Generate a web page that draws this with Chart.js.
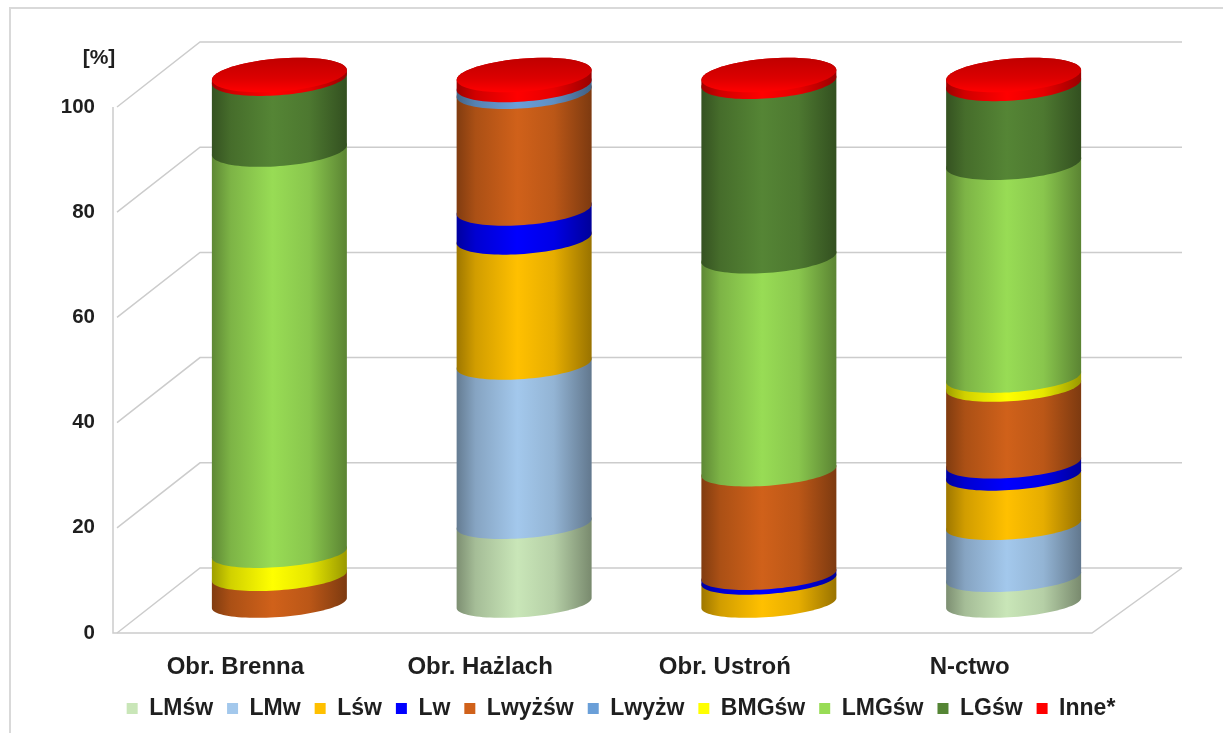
<!DOCTYPE html>
<html>
<head>
<meta charset="utf-8">
<script src="https://cdn.jsdelivr.net/npm/chart.js@4"></script>
<style>
html, body { margin: 0; padding: 0; background: #fff; }
canvas { position: absolute; left: 0; top: 0; filter: blur(0.6px); }
</style>
</head>
<body>
<canvas id="wykres" width="1223" height="736"></canvas>
<script>
const kategorie = ["Obr. Brenna", "Obr. Hażlach", "Obr. Ustroń", "N-ctwo"];
const etykietyOsi = [0, 20, 40, 60, 80, 100];

const lmsw   = [0, 15.0, 0, 4.9];
const lmw    = [0, 30.3, 0, 9.9];
const lsw    = [0, 23.8, 4.4, 9.4];
const lw     = [0, 5.5, 0.9, 2.3];
const lwyzsw = [5.1, 22.2, 19.7, 14.6];
const lwyzw  = [0, 1.3, 0, 0];
const bmgsw  = [4.4, 0, 0, 1.7];
const lmgsw  = [76.3, 0, 40.5, 40.5];
const lgsw   = [13.5, 0, 33.2, 15.0];
const inne   = [0.7, 1.9, 1.3, 1.7];

const serie = [
    ["LMśw", lmsw, "#c9e6b8"],
    ["LMw", lmw, "#a3c8ec"],
    ["Lśw", lsw, "#ffc000"],
    ["Lw", lw, "#0000ff"],
    ["Lwyżśw", lwyzsw, "#d0611a"],
    ["Lwyżw", lwyzw, "#6a9fd8"],
    ["BMGśw", bmgsw, "#ffff00"],
    ["LMGśw", lmgsw, "#98dc55"],
    ["LGśw", lgsw, "#558535"],
    ["Inne*", inne, "#ff0000"]
];

const czcionka = "'Liberation Sans', Arial, sans-serif";
const kolorTekstu = "#1f1f1f";
const kolorSiatki = "#cccccc";

// przesuniecie tylnej sciany i srodka walca wzgledem przedniej plaszczyzny
const glebX = 87, glebY = 65;
const walecX = 44, walecY = 30, promien = 67.5;

function przyciemnij(hex, f) {
    const n = parseInt(hex.slice(1), 16);
    const r = Math.round((n >> 16) * f);
    const g = Math.round(((n >> 8) & 255) * f);
    const b = Math.round((n & 255) * f);
    return `rgb(${r},${g},${b})`;
}

// y srodka elipsy dla piksela y na osi, u gory walec lekko sie rozjezdza
function srodekY(y, area) {
    const u = (area.bottom - y) / (area.bottom - area.top);
    return y - walecY - 2 * u;
}

function elipsa(ctx, cx, y, od, doK, area) {
    const u = (area.bottom - y) / (area.bottom - area.top);
    const cy = srodekY(y, area);
    const k = 5;
    const h = 14 + 2.5 * u;
    const kroki = 48;
    for (let i = 0; i <= kroki; i++) {
        const t = od + (doK - od) * i / kroki;
        ctx.lineTo(cx + promien * Math.cos(t), cy - k * Math.cos(t) + h * Math.sin(t));
    }
}

const walce = {
    id: "walce",
    afterLayout(chart) {
        // legenda wysrodkowana na calym obrazku, nie na obszarze wykresu
        chart.legend.left += 75;
        chart.legend.right += 75;
    },
    beforeDatasetsDraw(chart) {
        const ctx = chart.ctx;
        const area = chart.chartArea;
        const skala = chart.scales.y;

        // sciany i siatka
        ctx.save();
        ctx.strokeStyle = kolorSiatki;
        ctx.lineWidth = 1.5;
        etykietyOsi.forEach(w => {
            const y = skala.getPixelForValue(w);
            ctx.beginPath();
            ctx.moveTo(area.left + 4, y);
            ctx.lineTo(area.left + glebX, y - glebY);
            ctx.lineTo(area.right + 90, y - glebY);
            ctx.stroke();
        });
        ctx.beginPath();
        ctx.moveTo(area.left, area.top);
        ctx.lineTo(area.left, area.bottom);
        ctx.lineTo(area.right, area.bottom);
        ctx.lineTo(area.right + 90, area.bottom - glebY);
        ctx.stroke();

        ctx.fillStyle = kolorTekstu;
        ctx.font = "bold 21px " + czcionka;
        ctx.textAlign = "center";
        ctx.textBaseline = "middle";
        ctx.fillText("[%]", 99, 58);

        // walce, od dolu do gory
        kategorie.forEach((nazwa, j) => {
            let cx = 0, gora = 0;
            chart.data.datasets.forEach((ds, i) => {
                const bar = chart.getDatasetMeta(i).data[j];
                if (!ds.data[j]) return;
                cx = bar.x + walecX;
                gora = bar.y;
                const g = ctx.createLinearGradient(cx - promien, 0, cx + promien, 0);
                const kol = ds.backgroundColor;
                g.addColorStop(0, przyciemnij(kol, 0.62));
                g.addColorStop(0.14, przyciemnij(kol, 0.82));
                g.addColorStop(0.45, kol);
                g.addColorStop(0.72, przyciemnij(kol, 0.9));
                g.addColorStop(1, przyciemnij(kol, 0.6));
                ctx.fillStyle = g;
                ctx.beginPath();
                elipsa(ctx, cx, bar.base, Math.PI, 0, area);
                elipsa(ctx, cx, bar.y, 0, -Math.PI, area);
                ctx.closePath();
                ctx.fill();
            });
            const sy = srodekY(gora, area);
            const czerwien = ctx.createLinearGradient(0, sy - 17, 0, sy + 17);
            czerwien.addColorStop(0, "#c00000");
            czerwien.addColorStop(0.6, "#dc0000");
            czerwien.addColorStop(1, "#ff0000");
            ctx.fillStyle = czerwien;
            ctx.beginPath();
            elipsa(ctx, cx, gora, 0, 2 * Math.PI, area);
            ctx.closePath();
            ctx.fill();
        });

        // ramka
        ctx.strokeStyle = "#d9d9d9";
        ctx.lineWidth = 2;
        ctx.beginPath();
        ctx.moveTo(10, 733);
        ctx.lineTo(10, 8);
        ctx.lineTo(1223, 8);
        ctx.stroke();
        ctx.restore();
        return false;
    }
};

new Chart(document.getElementById("wykres"), {
    type: "bar",
    data: {
        labels: kategorie,
        datasets: serie.map(s => ({ label: s[0], data: s[1], backgroundColor: s[2] }))
    },
    plugins: [walce],
    options: {
        responsive: false,
        animation: false,
        layout: { padding: { left: 0, right: 131, top: 107, bottom: 6 } },
        plugins: {
            tooltip: { enabled: false },
            legend: {
                position: "bottom",
                labels: {
                    usePointStyle: true,
                    pointStyle: "rect",
                    boxWidth: 11,
                    boxHeight: 11,
                    padding: 14,
                    color: kolorTekstu,
                    font: { family: czcionka, weight: "bold", size: 23 }
                }
            }
        },
        scales: {
            x: {
                stacked: true,
                grid: { display: false },
                border: { display: false },
                afterFit(s) { s.height = 50; },
                ticks: { color: kolorTekstu, padding: 12, maxRotation: 0, font: { family: czcionka, weight: "bold", size: 24 } }
            },
            y: {
                stacked: true,
                min: 0,
                max: 100,
                grid: { display: false },
                border: { display: false },
                afterFit(s) { s.width = 113; },
                ticks: { stepSize: 20, color: kolorTekstu, padding: 10, font: { family: czcionka, weight: "bold", size: 20.5 } }
            }
        }
    }
});
</script>
</body>
</html>
